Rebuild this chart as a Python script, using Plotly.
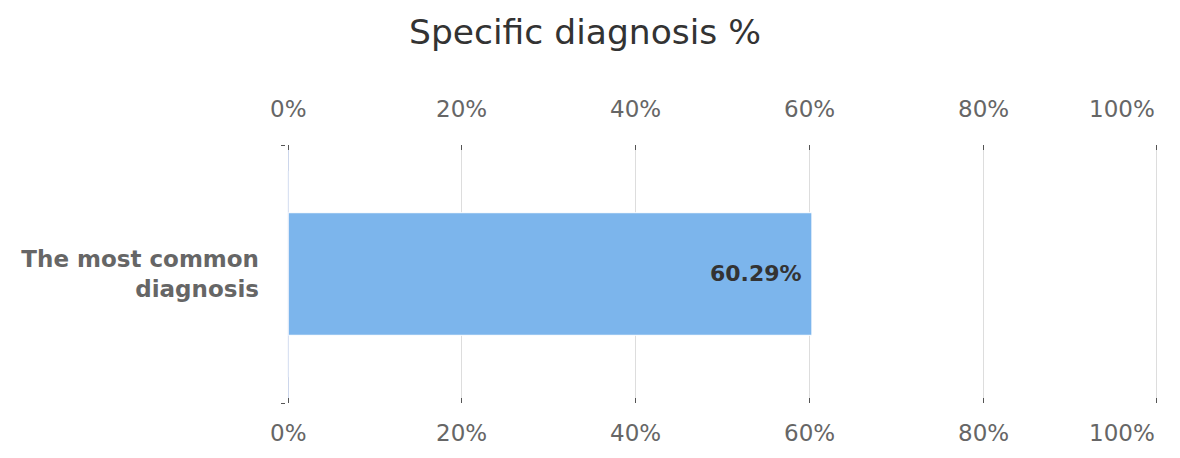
import plotly.graph_objects as go

categories = ["The most common<br>diagnosis"]
values = [60.29]
tick_values = [0, 20, 40, 60, 80, 100]
tick_labels = ["0%", "20%", "40%", "60%", "80%", "100%"]
title_text = "Specific diagnosis %"

FONT = "DejaVu Sans"

fig = go.Figure()
fig.add_trace(go.Bar(
    y=categories,
    x=values,
    orientation="h",
    marker=dict(color="#7cb5ec", line=dict(color="#ffffff", width=1)),
    hoverinfo="skip",
    width=0.475,
))
# invisible trace to activate the top axis
fig.add_trace(go.Bar(y=categories, x=[0], orientation="h", xaxis="x2",
                     marker=dict(color="rgba(0,0,0,0)"), showlegend=False, hoverinfo="skip"))

axis_common = dict(
    range=[-0.25, 100.25],
    tickmode="array",
    tickvals=tick_values,
    showticklabels=False,
    ticks="inside",
    ticklen=5,
    tickcolor="#555555",
    tickwidth=1,
    showgrid=True,
    gridcolor="#dddddd",
    gridwidth=1,
    showline=False,
    fixedrange=True,
)

annotations = []
for v, lab in zip(tick_values, tick_labels):
    anchor = "right" if v == tick_values[-1] else "center"
    for ypos, shift in ((1, 36), (0, -30)):
        annotations.append(dict(
            x=v, xref="x", y=ypos, yref="paper", yshift=shift,
            text=lab, showarrow=False, xanchor=anchor, yanchor="middle",
            font=dict(family=FONT, size=23, color="#666666"),
        ))

# data labels inside the bar end
for cat, val in zip(categories, values):
    annotations.append(dict(
        x=val, xref="x", y=cat, yref="y", xanchor="right", yanchor="middle",
        xshift=-8, yshift=1, showarrow=False, text=f"{val:.2f}%",
        font=dict(family=FONT, size=22, color="#333333", weight="bold"),
    ))

fig.update_layout(
    width=1180, height=458,
    margin=dict(l=286, r=21, t=145, b=55),
    paper_bgcolor="#ffffff",
    plot_bgcolor="#ffffff",
    showlegend=False,
    barmode="overlay",
    title=dict(text=title_text, x=0.4958, xanchor="center", y=1 - 32 / 458, yanchor="middle",
               font=dict(family=FONT, size=34.5, color="#333333")),
    xaxis=dict(**axis_common, side="bottom", zeroline=True, zerolinecolor="#ccd6eb", zerolinewidth=1),
    xaxis2=dict(**axis_common, side="top", overlaying="x", matches="x", zeroline=False),
    yaxis=dict(
        type="category",
        tickson="boundaries",
        ticks="outside",
        ticklen=4,
        tickcolor="#555555",
        showline=False,
        showgrid=False,
        ticklabelstandoff=26,
        tickfont=dict(family=FONT, size=23, color="#666666", weight="bold"),
        fixedrange=True,
    ),
    annotations=annotations,
)

fig.write_html("out.html", config={"displayModeBar": False},
               post_script="document.body.style.margin='0';")
